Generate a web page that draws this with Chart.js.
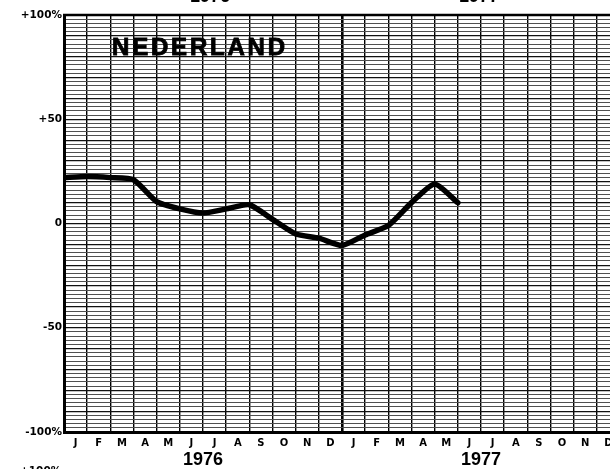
<!DOCTYPE html>
<html lang="nl">
<head>
<meta charset="UTF-8">
<title>Nederland 1976-1977</title>
<script src="https://cdn.jsdelivr.net/npm/chart.js"></script>
<style>
  body { margin: 0; background: #fff; overflow: hidden; }
  #wrap { position: relative; width: 610px; height: 469px; overflow: hidden; }
  #box { position: absolute; left: 0; top: 0; width: 626px; height: 469px; }
  .txt { position: absolute; white-space: nowrap; color: #000; }
  #naam { left: 112px; top: 35px; font: bold 24px "Liberation Sans", Arial, sans-serif;
          letter-spacing: 2.8px; line-height: 24px; -webkit-text-stroke: 0.9px #000; }
  .jaar-boven { top: -14px; font: bold 18px "Liberation Sans", Arial, sans-serif; line-height: 20px; }
  #onder { left: 20px; top: 464px; font: bold 10.5px "DejaVu Sans", sans-serif; line-height: 13px; }
</style>
</head>
<body>
<div id="wrap">
  <div id="box"><canvas id="grafiek"></canvas></div>
  <div class="txt" id="naam">NEDERLAND</div>
  <div class="txt jaar-boven" style="left:190px">1976</div>
  <div class="txt jaar-boven" style="left:459px">1977</div>
  <div class="txt" id="onder">+100%</div>
</div>
<script>
  // maanden jan 1976 - dec 1977
  const maanden = ['J','F','M','A','M','J','J','A','S','O','N','D',
                   'J','F','M','A','M','J','J','A','S','O','N','D'];
  const jaren = ['1976', '1977'];
  const jaarPos = [6, 18];
  // waarde aan het begin van elke maand, jan 1976 t/m jun 1977 (%)
  const waarden = [22, 22.5, 22, 21, 10.5, 7, 5, 7, 9, 2, -5, -7, -10.5, -5.5, -1, 10, 19, 10];
  const yWaarden = [100, 50, 0, -50, -100];
  const yTeksten = ['+100%', '+50', '0', '-50', '-100%'];

  const bovenRand = {
    id: 'bovenRand',
    afterDraw(chart) {
      const { ctx, chartArea: a } = chart;
      ctx.save();
      ctx.strokeStyle = '#000';
      ctx.lineWidth = 2.5;
      ctx.beginPath();
      ctx.moveTo(a.left - 1, a.top);
      ctx.lineTo(a.right, a.top);
      ctx.stroke();
      ctx.restore();
    }
  };

  new Chart(document.getElementById('grafiek'), {
    type: 'line',
    data: {
      datasets: [{
        data: waarden.map((v, i) => ({ x: i, y: v })),
        borderColor: '#000',
        borderWidth: 5.5,
        pointRadius: 0,
        tension: 0.2,
        borderCapStyle: 'round',
        borderJoinStyle: 'round',
        fill: false
      }]
    },
    options: {
      responsive: true,
      maintainAspectRatio: false,
      animation: false,
      layout: { padding: { top: 15, right: 6, bottom: 0, left: 0 } },
      plugins: { legend: { display: false }, tooltip: { enabled: false } },
      scales: {
        x: {
          type: 'linear', min: 0, max: 24, weight: 0,
          ticks: {
            stepSize: 1, autoSkip: false, maxRotation: 0, labelOffset: 11.6, padding: 5,
            color: '#000', font: { family: 'DejaVu Sans', size: 10, weight: 'bold' },
            callback: v => maanden[v] ?? ''
          },
          grid: {
            color: '#000', drawTicks: false,
            lineWidth: c => (c.tick && c.tick.value === 12 ? 2.6 : 1.4)
          },
          border: { color: '#000', width: 3 },
          afterFit: s => { s.height = 17; }
        },
        jaar: {
          type: 'linear', position: 'bottom', min: 0, max: 24, weight: 1,
          afterBuildTicks: s => { s.ticks = jaarPos.map(v => ({ value: v })); },
          ticks: {
            autoSkip: false, maxRotation: 0, padding: 0, color: '#000',
            font: { family: 'Liberation Sans', size: 18, weight: 'bold' },
            callback: (v, i) => jaren[i]
          },
          grid: { display: false, drawTicks: false },
          border: { display: false },
          afterFit: s => { s.height = 20; }
        },
        y: {
          min: -100, max: 100,
          ticks: {
            stepSize: 2, autoSkip: false, padding: 2, color: '#000',
            font: { family: 'DejaVu Sans', size: 10.5, weight: 'bold' },
            callback: v => { const i = yWaarden.indexOf(v); return i < 0 ? '' : yTeksten[i]; }
          },
          grid: {
            drawTicks: false,
            color: c => (c.tick && c.tick.value % 10 === 0 ? '#111' : '#505050'),
            lineWidth: c => (c.tick && c.tick.value % 10 === 0 ? 1.2 : 1.1)
          },
          border: { color: '#000', width: 3 },
          afterFit: s => { s.width = 64; }
        }
      }
    },
    plugins: [bovenRand]
  });
</script>
</body>
</html>
